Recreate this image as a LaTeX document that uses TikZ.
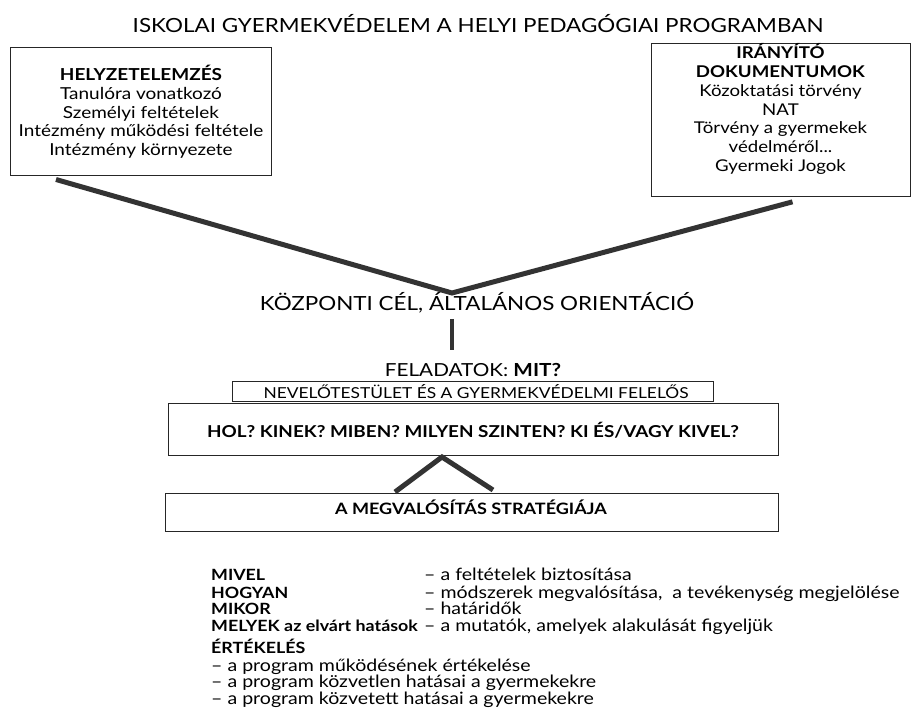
\documentclass[tikz,border=0pt]{standalone}
\usepackage{fontspec}
\setmainfont{Lato}[FakeStretch=1.15]
\usepackage{tikz}

\tikzset{
  doboz/.style={draw=black!85, line width=1pt, inner sep=0pt, align=center},
  vastag/.style={draw=black!80, line width=5pt},
  sor/.style={anchor=base west, inner sep=0pt, font=\fontsize{17}{18}\selectfont},
  fej/.style={anchor=base west, inner sep=0pt, font=\fontsize{15.5}{18}\selectfont\bfseries},
}

\begin{document}
\begin{tikzpicture}[x=1pt,y=-1pt]
    \useasboundingbox (0,0) rectangle (914,708);
    \node (cim) at (478,24) {\fontsize{19.5}{22}\selectfont ISKOLAI GYERMEKVÉDELEM A HELYI PEDAGÓGIAI PROGRAMBAN};
    \node[doboz, minimum width=261pt, minimum height=128pt, font=\fontsize{16.5}{18.7}\selectfont] (helyzet) at (141,112)
        {\textbf{HELYZETELEMZÉS}\\Tanulóra vonatkozó\\Személyi feltételek\\Intézmény működési feltétele\\Intézmény környezete};
    \node[doboz, minimum width=259pt, minimum height=144pt, font=\fontsize{16.2}{18.8}\selectfont] (irany) at (780.5,120)
        {\textbf{IRÁNYÍTÓ}\\\textbf{DOKUMENTUMOK}\\Közoktatási törvény\\NAT\\Törvény a gyermekek\\védelméről...\\Gyermeki Jogok\\[6pt]};
    \coordinate (bal) at ([xshift=46pt,yshift=-3pt]helyzet.south west);
    \coordinate (jobb) at ([xshift=142pt,yshift=-5pt]irany.south west);
    \coordinate (csucs) at (452,293);
    \draw[vastag] (bal) -- (csucs) -- (jobb);
    \node (cel) at (477,303) {\fontsize{19.5}{22}\selectfont KÖZPONTI CÉL, ÁLTALÁNOS ORIENTÁCIÓ};
    \node (feladat) at (473,370) {\fontsize{18}{20}\selectfont FELADATOK: \textbf{MIT?}};
    \draw[draw=black!80, line width=3.5pt] ([yshift=-2pt]cel.south -| csucs) -- ([yshift=10pt]feladat.north -| csucs);
    \node[doboz, minimum width=481pt, minimum height=20pt] (testulet) at (472.5,392) {};
    \node (testulet felirat) at (476,392) {\fontsize{15.1}{18}\selectfont NEVELŐTESTÜLET ÉS A GYERMEKVÉDELMI FELELŐS};
    \node[doboz, minimum width=610pt, minimum height=52pt] (kerdes) at (473,430)
        {\fontsize{16.4}{18}\selectfont\bfseries HOL? KINEK? MIBEN? MILYEN SZINTEN? KI ÉS/VAGY KIVEL?};
    \node[doboz, minimum width=613pt, minimum height=38pt] (strat) at (471.5,513) {};
    \node (strat felirat) at (471,507) {\fontsize{15.7}{18}\selectfont\bfseries A MEGVALÓSÍTÁS STRATÉGIÁJA};
    \coordinate (lab1) at (395,492);
    \coordinate (lab2) at (493,490);
    \draw[vastag] (lab1) -- (442,457) -- (lab2);
    % a strategia sorai
    \node[fej] (mivel) at (211,581) {MIVEL};
    \node[fej] (hogyan) at (211,598) {HOGYAN};
    \node[fej] (mikor) at (211,615) {MIKOR};
    \node[fej] (melyek) at (211,632) {MELYEK az elvárt hatások};
    \node[sor] (mivel2) at (424,581) {– a feltételek biztosítása};
    \node[sor] (hogyan2) at (424,598) {– módszerek megvalósítása,\ \ a tevékenység megjelölése};
    \node[sor] (mikor2) at (424,615) {– határidők};
    \node[sor] (melyek2) at (424,632) {– a mutatók, amelyek alakulását figyeljük};
    % ertekeles
    \node[fej] (ertek) at (211,654) {ÉRTÉKELÉS};
    \node[sor] (ertek1) at (211,671) {– a program működésének értékelése};
    \node[sor] (ertek2) at (211,687.5) {– a program közvetlen hatásai a gyermekekre};
    \node[sor] (ertek3) at (211,704) {– a program közvetett hatásai a gyermekekre};
\end{tikzpicture}
\end{document}
